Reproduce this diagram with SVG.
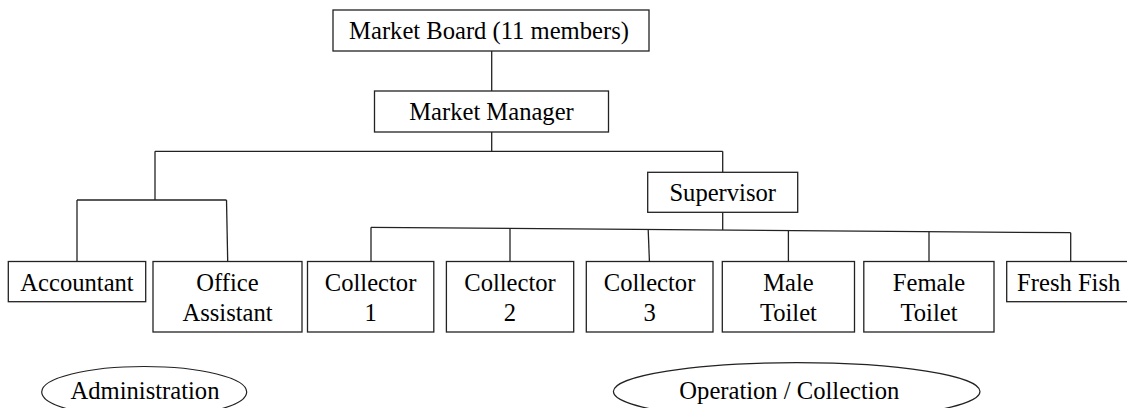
<svg xmlns="http://www.w3.org/2000/svg" width="1127" height="408" viewBox="0 0 1127 408">
<style>
.box{fill:#fff;stroke:#222;stroke-width:1.3}
.ell{fill:#fff;stroke:#222;stroke-width:1.2}
.ln{fill:none;stroke:#222;stroke-width:1.3}
text{font-family:"Liberation Serif","Times New Roman",serif;font-size:24.6px;fill:#000;text-anchor:middle}
</style>
<rect width="1127" height="408" fill="#fff"/>
<g id="connectors">
<line class="ln" x1="491.7" y1="51" x2="491.7" y2="91"/>
<line class="ln" x1="491.7" y1="132" x2="491.7" y2="151.3"/>
<line class="ln" x1="155" y1="151.3" x2="722.7" y2="151.3"/>
<line class="ln" x1="155" y1="151.3" x2="155" y2="200"/>
<line class="ln" x1="77" y1="200" x2="226.5" y2="200"/>
<line class="ln" x1="77" y1="200" x2="77" y2="261"/>
<line class="ln" x1="226.5" y1="200" x2="227.7" y2="261"/>
<line class="ln" x1="722.7" y1="151.3" x2="722.7" y2="172"/>
<line class="ln" x1="722.7" y1="212" x2="722.7" y2="230"/>
<line class="ln" x1="371" y1="227.3" x2="1070.7" y2="232.7"/>
<line class="ln" x1="371" y1="227.3" x2="371" y2="261"/>
<line class="ln" x1="510" y1="228.4" x2="510" y2="261"/>
<line class="ln" x1="648.2" y1="229.4" x2="649.4" y2="261"/>
<line class="ln" x1="788.4" y1="230.5" x2="788.4" y2="261"/>
<line class="ln" x1="929" y1="231.6" x2="929" y2="261"/>
<line class="ln" x1="1070.7" y1="232.7" x2="1070.7" y2="261"/>
</g>
<g id="board"><rect class="box" x="333" y="10" width="316" height="41"/><text x="489" y="39">Market Board (11 members)</text></g>
<g id="manager"><rect class="box" x="374.5" y="91" width="234" height="41"/><text x="491.5" y="120">Market Manager</text></g>
<g id="supervisor"><rect class="box" x="647.7" y="172.3" width="150" height="40"/><text x="722.7" y="200.5">Supervisor</text></g>
<g id="accountant"><rect class="box" x="8.3" y="261.5" width="137.4" height="40.2"/><text x="77" y="290.7">Accountant</text></g>
<g id="office-assistant"><rect class="box" x="153" y="261.5" width="149" height="70.5"/><text x="227.5" y="290.7">Office</text><text x="227.5" y="321">Assistant</text></g>
<g id="collector-1"><rect class="box" x="307.5" y="261.5" width="126.3" height="70.5"/><text x="370.6" y="290.7">Collector</text><text x="370.6" y="321">1</text></g>
<g id="collector-2"><rect class="box" x="446.4" y="261.5" width="127.3" height="70.5"/><text x="510" y="290.7">Collector</text><text x="510" y="321">2</text></g>
<g id="collector-3"><rect class="box" x="586.3" y="261.5" width="126.7" height="70.5"/><text x="649.6" y="290.7">Collector</text><text x="649.6" y="321">3</text></g>
<g id="male-toilet"><rect class="box" x="722.3" y="261.5" width="132.2" height="70.5"/><text x="788.4" y="290.7">Male</text><text x="788.4" y="321">Toilet</text></g>
<g id="female-toilet"><rect class="box" x="863.8" y="261.5" width="130.2" height="70.5"/><text x="929" y="290.7">Female</text><text x="929" y="321">Toilet</text></g>
<g id="fresh-fish"><rect class="box" x="1006.7" y="261.5" width="128" height="40.2"/><text x="1068.7" y="290.7">Fresh Fish</text></g>
<g id="administration"><ellipse class="ell" cx="144.2" cy="392" rx="102.5" ry="25.5"/><text x="145" y="399">Administration</text></g>
<g id="operation-collection"><ellipse class="ell" cx="796.7" cy="391.5" rx="183.3" ry="28.8"/><text x="789.3" y="399">Operation / Collection</text></g>
</svg>
